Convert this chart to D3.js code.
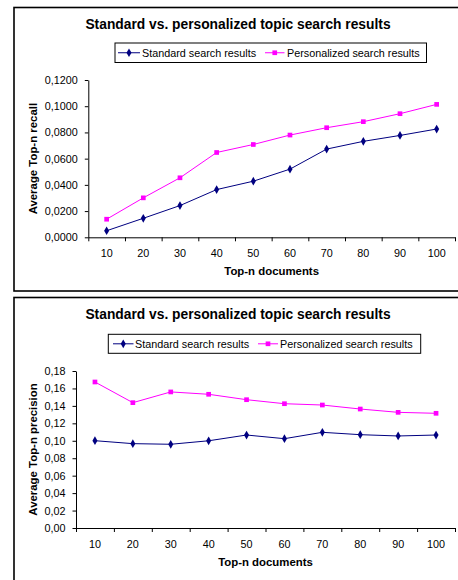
<!DOCTYPE html>
<html><head><meta charset="utf-8">
<script src="https://cdn.jsdelivr.net/npm/d3@7"></script>
<style>
html,body{margin:0;padding:0;background:#fff;}
svg{display:block;font-family:"Liberation Sans",Arial,sans-serif;}
</style></head>
<body>
<svg id="c" width="458" height="580"></svg>
<script>
const categories = ["10","20","30","40","50","60","70","80","90","100"];
const recallStandard = [0.0050,0.0145,0.0242,0.0364,0.0428,0.0520,0.0673,0.0732,0.0777,0.0826];
const recallPersonalized = [0.0138,0.0301,0.0454,0.0647,0.0708,0.0780,0.0836,0.0882,0.0943,0.1014];
const precisionStandard = [0.1001,0.0967,0.0960,0.1000,0.1066,0.1024,0.1097,0.1070,0.1055,0.1066];
const precisionPersonalized = [0.1674,0.1437,0.1560,0.1533,0.1471,0.1425,0.1410,0.1364,0.1326,0.1315];
const recallTicks = [0,0.02,0.04,0.06,0.08,0.10,0.12];
const precisionTicks = [0,0.02,0.04,0.06,0.08,0.10,0.12,0.14,0.16,0.18];
const seriesNames = ["Standard search results","Personalized search results"];
const chartTitle = "Standard vs. personalized topic search results";
const xTitle = "Top-n documents";

const svg = d3.select("#c");
const diamond = d3.symbol().type(d3.symbolDiamond).size(22);
const square = d3.symbol().type(d3.symbolSquare).size(22);

function chart(cfg){
  const g = svg.append("g");
  // frame
  g.append("rect").attr("x",cfg.frame[0]).attr("y",cfg.frame[1]).attr("width",cfg.frame[2]).attr("height",cfg.frame[3])
    .attr("fill","#fff").attr("stroke","#000").attr("stroke-width",1.6);
  g.append("text").attr("x",238).attr("y",cfg.titleY).attr("text-anchor","middle")
    .attr("font-size",13.8).attr("font-weight","bold").text(chartTitle);
  // legend
  const L = cfg.legend;
  g.append("rect").attr("x",L.x).attr("y",L.y).attr("width",L.w).attr("height",L.h)
    .attr("fill","#fff").attr("stroke","#000").attr("stroke-width",1);
  const cy = L.y + L.h/2;
  const items = [
    {x0:L.s0, x1:L.s1, tx:L.st, color:"#000080", sym:diamond, name:seriesNames[0]},
    {x0:L.p0, x1:L.p1, tx:L.pt, color:"#FF00FF", sym:square, name:seriesNames[1]}
  ];
  items.forEach(it=>{
    g.append("line").attr("x1",it.x0).attr("x2",it.x1).attr("y1",cy).attr("y2",cy).attr("stroke",it.color).attr("stroke-width",1);
    g.append("path").attr("d",it.sym()).attr("transform",`translate(${(it.x0+it.x1)/2},${cy})`).attr("fill",it.color);
    g.append("text").attr("x",it.tx).attr("y",cy+3.8).attr("font-size",10.8).text(it.name);
  });

  const x = d3.scaleBand().domain(categories).range([cfg.x0,cfg.x1]).padding(0);
  const xb = d3.scaleLinear().domain([0,categories.length]).range([cfg.x0,cfg.x1]);
  const y = d3.scaleLinear().domain([0,cfg.ymax]).range([cfg.yb,cfg.yt]);

  // y axis
  const ya = g.append("g").attr("transform",`translate(${cfg.x0},0)`)
    .call(d3.axisLeft(y).tickValues(cfg.ticks).tickSize(3.5).tickPadding(7).tickFormat(cfg.fmt).tickSizeOuter(0));
  ya.select(".domain").attr("stroke","#000");
  ya.selectAll("line").attr("stroke","#000");
  ya.selectAll("text").attr("font-size",10.8).attr("fill","#000").attr("font-family","Liberation Sans, Arial, sans-serif");
  // x axis ticks at boundaries
  const xa = g.append("g").attr("transform",`translate(0,${cfg.yb})`)
    .call(d3.axisBottom(xb).tickValues(d3.range(0,categories.length+1)).tickSize(4).tickFormat("").tickSizeOuter(0));
  xa.select(".domain").attr("stroke","#000");
  xa.selectAll("line").attr("stroke","#000");
  const xl = g.append("g").attr("transform",`translate(0,${cfg.yb})`)
    .call(d3.axisBottom(x).tickSize(0).tickPadding(12.5));
  xl.select(".domain").remove();
  xl.selectAll("text").attr("font-size",10.8).attr("fill","#000").attr("font-family","Liberation Sans, Arial, sans-serif");

  // axis titles
  g.append("text").attr("x",(cfg.x0+cfg.x1)/2).attr("y",cfg.xTitleY).attr("text-anchor","middle")
    .attr("font-size",11.4).attr("font-weight","bold").text(xTitle);
  g.append("text").attr("transform",`translate(${cfg.yTitleX},${(cfg.yt+cfg.yb)/2}) rotate(-90)`).attr("text-anchor","middle")
    .attr("font-size",11.4).attr("font-weight","bold").text(cfg.yTitle);

  // series
  const line = d3.line().x((d,i)=>x(categories[i])+x.bandwidth()/2).y(d=>y(d));
  [[cfg.s,"#000080",diamond],[cfg.p,"#FF00FF",square]].forEach(([data,color,sym])=>{
    g.append("path").datum(data).attr("d",line).attr("fill","none").attr("stroke",color).attr("stroke-width",1);
    g.selectAll(null).data(data).enter().append("path").attr("d",sym())
      .attr("transform",(d,i)=>`translate(${x(categories[i])+x.bandwidth()/2},${y(d)})`).attr("fill",color);
  });
}

chart({
  frame:[14,7.5,460,283.5], titleY:28.5,
  legend:{x:115,y:43,w:311.5,h:19.5,s0:118,s1:140,st:142,p0:265,p1:284.5,pt:287},
  x0:88.3,x1:455,yt:80,yb:237.3,ymax:0.12,ticks:recallTicks,fmt:d=>d3.format(".4f")(d).replace(".",","),
  xTitleY:275,yTitleX:36.5,yTitle:"Average Top-n recall",s:recallStandard,p:recallPersonalized
});
chart({
  frame:[14,297.5,460,300], titleY:319,
  legend:{x:108.3,y:334.3,w:312.4,h:19,s0:113,s1:133.5,st:135,p0:258,p1:278,pt:280},
  x0:76,x1:455,yt:371,yb:528,ymax:0.18,ticks:precisionTicks,fmt:d=>d3.format(".2f")(d).replace(".",","),
  xTitleY:565.5,yTitleX:36.5,yTitle:"Average Top-n precision",s:precisionStandard,p:precisionPersonalized
});
</script>
</body></html>
